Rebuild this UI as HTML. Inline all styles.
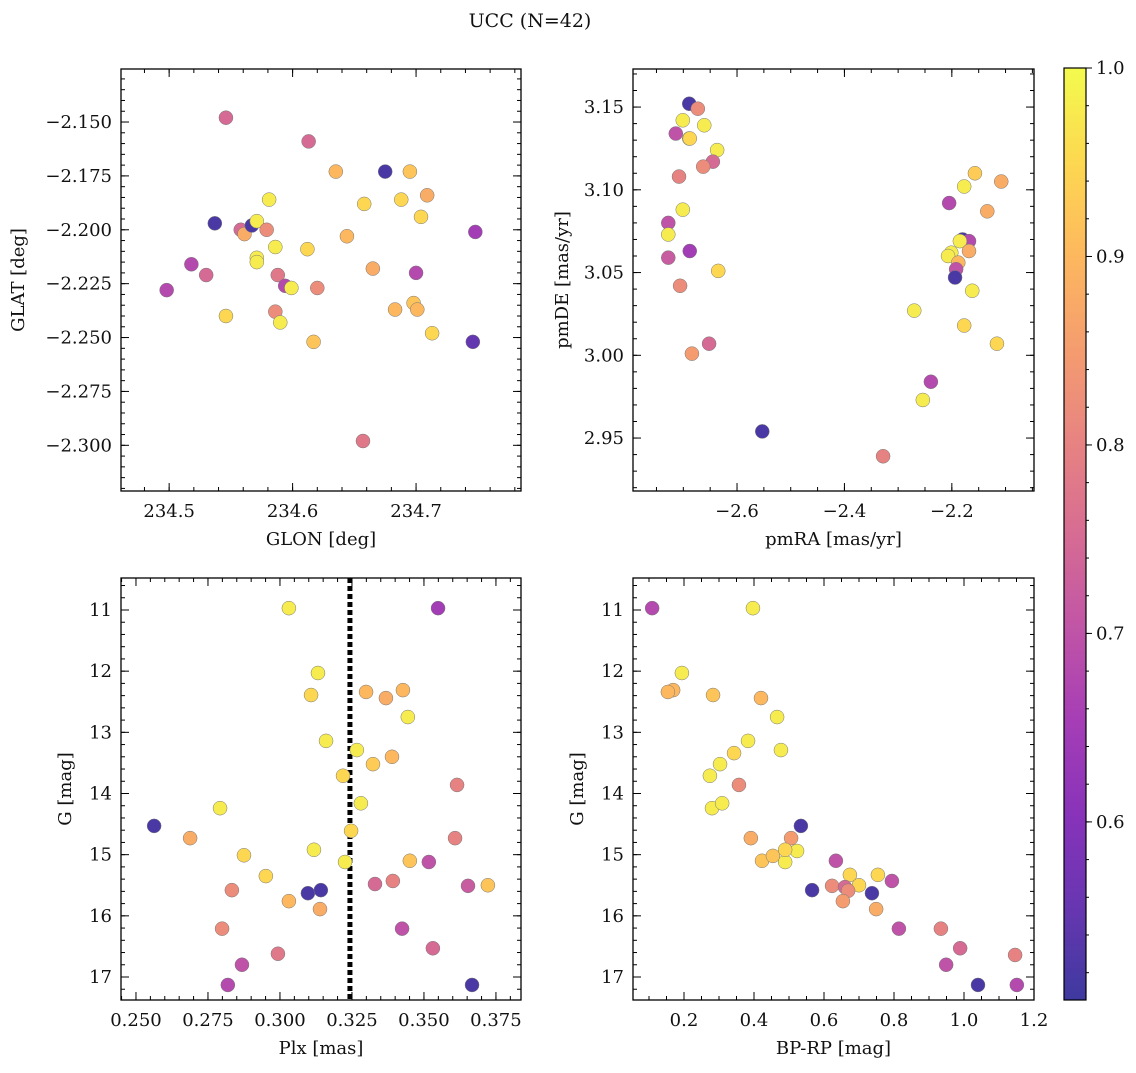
<!DOCTYPE html>
<html><head><meta charset="utf-8"><style>
body{margin:0;background:#fff;}
svg text{font-family:"DejaVu Serif","Liberation Serif",serif;fill:#111;}
</style></head><body>
<svg id="fig" width="1136" height="1068" xmlns="http://www.w3.org/2000/svg">
<text x="530" y="27" font-size="19" text-anchor="middle">UCC (N=42)</text>
</svg>
<script>
// ---- data ----
const glon=[234.546,234.613,234.675,234.635,234.695,234.709,234.581,234.658,234.688,234.704,234.537,234.558,234.561,234.567,234.571,234.586,234.612,234.644,234.748,234.518,234.530,234.498,234.579,234.571,234.571,234.588,234.594,234.599,234.620,234.665,234.700,234.698,234.701,234.683,234.713,234.546,234.586,234.590,234.617,234.746,234.657];
const glat=[-2.148,-2.159,-2.173,-2.173,-2.173,-2.184,-2.186,-2.188,-2.186,-2.194,-2.197,-2.200,-2.202,-2.198,-2.196,-2.208,-2.209,-2.203,-2.201,-2.216,-2.221,-2.228,-2.200,-2.213,-2.215,-2.221,-2.226,-2.227,-2.227,-2.218,-2.220,-2.234,-2.237,-2.237,-2.248,-2.240,-2.238,-2.243,-2.252,-2.252,-2.298];
const probA=[.75,.75,.52,.9,.92,.88,.98,.95,.95,.95,.52,.75,.88,.52,.98,.98,.95,.9,.65,.68,.75,.68,.82,.98,.98,.78,.68,.98,.82,.88,.68,.92,.9,.9,.95,.95,.82,.98,.92,.55,.78];

const pmra=[-2.689,-2.673,-2.701,-2.714,-2.661,-2.689,-2.688,-2.637,-2.645,-2.663,-2.708,-2.701,-2.728,-2.728,-2.688,-2.728,-2.635,-2.706,-2.684,-2.652,-2.553,-2.328,-2.254,-2.239,-2.270,-2.157,-2.108,-2.177,-2.134,-2.205,-2.180,-2.168,-2.185,-2.201,-2.207,-2.188,-2.168,-2.192,-2.194,-2.162,-2.177,-2.116];
const pmde=[3.152,3.149,3.142,3.134,3.139,3.131,3.131,3.124,3.117,3.114,3.108,3.088,3.080,3.073,3.063,3.059,3.051,3.042,3.001,3.007,2.954,2.939,2.973,2.984,3.027,3.110,3.105,3.102,3.087,3.092,3.070,3.069,3.069,3.062,3.060,3.056,3.063,3.052,3.047,3.039,3.018,3.007];
const probB=[.52,.82,.98,.7,.98,.98,.95,.98,.75,.82,.8,.98,.7,.98,.65,.72,.95,.82,.85,.75,.52,.8,.98,.68,.98,.93,.88,.98,.88,.68,.52,.68,.98,.98,.98,.9,.88,.7,.52,.98,.95,.95];

const plx=[0.3031,0.3549,0.3132,0.3108,0.3299,0.3427,0.3368,0.3444,0.3160,0.3267,0.3323,0.3389,0.3219,0.3615,0.2792,0.3281,0.2563,0.2688,0.3247,0.3118,0.3608,0.2875,0.3451,0.3226,0.3517,0.2951,0.3330,0.3392,0.3722,0.3653,0.2833,0.3097,0.3142,0.3031,0.3139,0.2799,0.3424,0.3531,0.2993,0.2868,0.2819,0.3667];
const gmagC=[10.97,10.97,12.03,12.39,12.34,12.31,12.44,12.75,13.14,13.29,13.52,13.40,13.71,13.86,14.24,14.16,14.53,14.73,14.61,14.92,14.73,15.01,15.10,15.12,15.12,15.35,15.48,15.43,15.50,15.51,15.58,15.63,15.58,15.76,15.89,16.21,16.21,16.53,16.62,16.80,17.13,17.13];
const probC=[.98,.65,.98,.95,.9,.9,.88,.98,.98,.98,.93,.9,.95,.8,.98,.98,.52,.88,.95,.98,.8,.95,.92,.98,.7,.95,.75,.8,.92,.72,.82,.52,.52,.9,.88,.82,.7,.75,.78,.7,.68,.52];
const plxMedian=0.3243;

const bprp=[0.109,0.397,0.194,0.169,0.154,0.283,0.420,0.466,0.383,0.477,0.343,0.303,0.274,0.357,0.280,0.309,0.534,0.391,0.506,0.423,0.634,0.489,0.454,0.523,0.489,0.674,0.754,0.700,0.623,0.660,0.669,0.737,0.566,0.794,0.654,0.749,0.814,0.934,0.989,0.949,1.146,1.040,1.151];
const gmagD=[10.97,10.97,12.03,12.31,12.34,12.39,12.44,12.75,13.14,13.29,13.34,13.52,13.71,13.86,14.24,14.16,14.53,14.73,14.73,15.10,15.10,15.12,15.02,14.94,14.92,15.33,15.33,15.50,15.51,15.53,15.59,15.63,15.58,15.43,15.76,15.89,16.21,16.21,16.53,16.80,16.64,17.13,17.13];
const probD=[.68,.98,.98,.9,.9,.92,.9,.98,.98,.98,.95,.98,.98,.82,.98,.98,.52,.88,.85,.92,.7,.98,.92,.98,.95,.95,.95,.95,.82,.75,.82,.52,.52,.7,.85,.88,.7,.8,.75,.7,.8,.52,.68];

const cbTicks=[0.6,0.7,0.8,0.9,1.0];
const vmin=0.5055, vmax=1.0;

// ---- helpers ----
const NS="http://www.w3.org/2000/svg";
const fig=document.getElementById('fig');
const FS=18;
function mk(tag,attrs,parent){const e=document.createElementNS(NS,tag);for(const k in attrs)e.setAttribute(k,attrs[k]);(parent||fig).appendChild(e);return e;}
const stops=[[13,8,135],[65,4,157],[106,0,168],[143,13,164],[177,42,144],[204,71,120],[225,100,98],[242,132,75],[252,166,54],[252,206,37],[240,249,33]];
function cmap(v){let t=(v-vmin)/(vmax-vmin);t=Math.max(0,Math.min(1,t));const p=t*10,i=Math.min(9,Math.floor(p)),f=p-i;
 const c=stops[i].map((a,k)=>a+(stops[i+1][k]-a)*f).map(a=>Math.round(a*0.8+255*0.2));return `rgb(${c[0]},${c[1]},${c[2]})`;}
function fmt(v,d){const s=Math.abs(v).toFixed(d);return (v<-1e-9?'\u2212':'')+s;}

function panel(o){
 const g=mk('g',{});
 
 
 const X=v=>o.x0+(v-o.xmin)/(o.xmax-o.xmin)*(o.x1-o.x0);
 const Y=v=>o.inv? o.y0+(v-o.ymin)/(o.ymax-o.ymin)*(o.y1-o.y0) : o.y1-(v-o.ymin)/(o.ymax-o.ymin)*(o.y1-o.y0);
 const tk=(pos,len,axis)=>{
  if(axis==='x'){mk('line',{x1:pos,x2:pos,y1:o.y1,y2:o.y1-len,stroke:'#000','stroke-width':1},g);mk('line',{x1:pos,x2:pos,y1:o.y0,y2:o.y0+len,stroke:'#000','stroke-width':1},g);}
  else{mk('line',{y1:pos,y2:pos,x1:o.x0,x2:o.x0+len,stroke:'#000','stroke-width':1},g);mk('line',{y1:pos,y2:pos,x1:o.x1,x2:o.x1-len,stroke:'#000','stroke-width':1},g);}
 };
 const lo=Math.min(o.xmin,o.xmax),hi=Math.max(o.xmin,o.xmax);
 for(let v=Math.ceil(lo/o.xminor-1e-6)*o.xminor;v<=hi+1e-9;v+=o.xminor)tk(X(v),4,'x');
 for(let v=Math.ceil(lo/o.xmajor-1e-6)*o.xmajor;v<=hi+1e-9;v+=o.xmajor){tk(X(v),8,'x');
  const t=mk('text',{x:X(v),y:o.y1+26,'font-size':FS,'text-anchor':'middle'},g);t.textContent=fmt(v,o.xd);
  
  }
 const ylo=Math.min(o.ymin,o.ymax),yhi=Math.max(o.ymin,o.ymax);
 for(let v=Math.ceil(ylo/o.yminor-1e-6)*o.yminor;v<=yhi+1e-9;v+=o.yminor)tk(Y(v),4,'y');
 for(let v=Math.ceil(ylo/o.ymajor-1e-6)*o.ymajor;v<=yhi+1e-9;v+=o.ymajor){tk(Y(v),8,'y');
  const t=mk('text',{x:o.x0-9,y:Y(v)+6,'font-size':FS,'text-anchor':'end'},g);t.textContent=fmt(v,o.yd);
  
  }
 if(o.vline!==undefined){const l=mk('line',{x1:X(o.vline),x2:X(o.vline),y1:o.y0,y2:o.y1,stroke:'#000','stroke-width':5,'stroke-dasharray':'5,3'},g);
  
  }
 for(let i=0;i<Math.min(o.xs.length,o.ys.length);i++){
  const c=mk('circle',{cx:X(o.xs[i]),cy:Y(o.ys[i]),r:7,fill:cmap(o.cs[i]),stroke:'#777','stroke-width':0.5},g);
  
  
 }
 const fr=mk('rect',{x:o.x0,y:o.y0,width:o.x1-o.x0,height:o.y1-o.y0,fill:'none',stroke:'#000','stroke-width':1.3},g);
 
 
 const xl=mk('text',{x:(o.x0+o.x1)/2,y:o.y1+54,'font-size':FS,'text-anchor':'middle'},g);xl.textContent=o.xlabel;
 
 
 const yl=mk('text',{x:0,y:0,'font-size':FS,'text-anchor':'middle',transform:`translate(${o.ylx},${(o.y0+o.y1)/2}) rotate(-90)`},g);yl.textContent=o.ylabel;
 
 
}

panel({name:'glon-glat-panel',x0:121,x1:521,y0:69,y1:491,xmin:234.461,xmax:234.785,ymin:-2.3212,ymax:-2.1254,xmajor:0.1,xminor:0.02,ymajor:0.025,yminor:0.005,xd:1,yd:3,xs:glon,ys:glat,cs:probA,xlabel:'GLON [deg]',ylabel:'GLAT [deg]',ylx:24});
panel({name:'pm-panel',x0:633,x1:1034,y0:69,y1:491,xmin:-2.7937,xmax:-2.047,ymin:2.918,ymax:3.173,xmajor:0.2,xminor:0.05,ymajor:0.05,yminor:0.01,xd:1,yd:2,xs:pmra,ys:pmde,cs:probB,xlabel:'pmRA [mas/yr]',ylabel:'pmDE [mas/yr]',ylx:568});
panel({name:'plx-g-panel',x0:121,x1:521,y0:578,y1:1000,xmin:0.2448,xmax:0.3837,ymin:10.477,ymax:17.376,inv:true,xmajor:0.025,xminor:0.005,ymajor:1,yminor:0.2,xd:3,yd:0,xs:plx,ys:gmagC,cs:probC,vline:plxMedian,xlabel:'Plx [mas]',ylabel:'G [mag]',ylx:71});
panel({name:'cmd-panel',x0:633,x1:1034,y0:578,y1:1000,xmin:0.0543,xmax:1.2,ymin:10.477,ymax:17.376,inv:true,xmajor:0.2,xminor:0.05,ymajor:1,yminor:0.2,xd:1,yd:0,xs:bprp,ys:gmagD,cs:probD,xlabel:'BP-RP [mag]',ylabel:'G [mag]',ylx:583});

// colorbar
const cb=mk('g',{});


const cbx=1064,cbw=22,cby0=68,cby1=1000;
for(let y=cby0;y<cby1;y+=2){const v=vmax-(y-cby0)/(cby1-cby0)*(vmax-vmin);mk('rect',{x:cbx,y:y,width:cbw,height:2.5,fill:cmap(v)},cb);}
mk('rect',{x:cbx,y:cby0,width:cbw,height:cby1-cby0,fill:'none',stroke:'#000','stroke-width':1.2},cb);
const CY=v=>cby1-(v-vmin)/(vmax-vmin)*(cby1-cby0);
for(let v=0.52;v<=1.0001;v+=0.02){mk('line',{x1:cbx+cbw,x2:cbx+cbw+3,y1:CY(v),y2:CY(v),stroke:'#000'},cb);}
cbTicks.forEach(v=>{mk('line',{x1:cbx+cbw,x2:cbx+cbw+6,y1:CY(v),y2:CY(v),stroke:'#000'},cb);
 const t=mk('text',{x:cbx+cbw+10,y:CY(v)+6,'font-size':FS},cb);t.textContent=v.toFixed(1);
 
 });
</script>
</body></html>
